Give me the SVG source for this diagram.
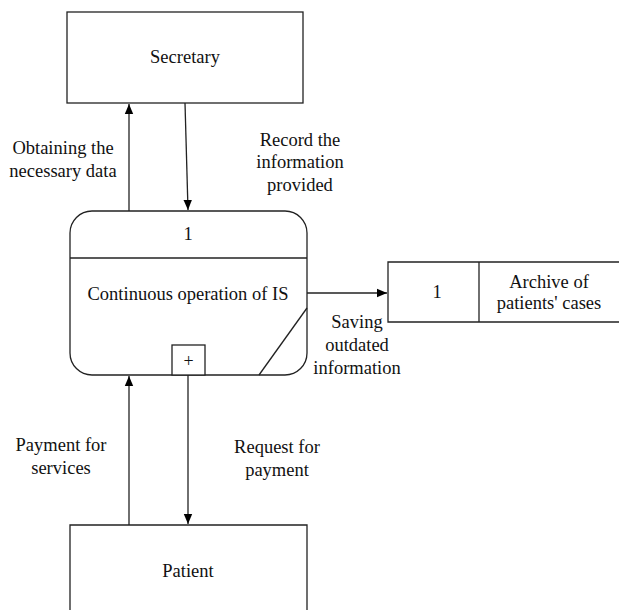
<svg xmlns="http://www.w3.org/2000/svg" width="619" height="610" viewBox="0 0 619 610">
<style>
.box{fill:#fff;stroke:#222;stroke-width:1.3}
.ln{fill:none;stroke:#222;stroke-width:1.3}
.t{font-family:'Liberation Serif','Times New Roman',serif;font-size:18.5px;fill:#111;text-anchor:middle}
</style>
<defs>
<marker id="ah" markerWidth="10" markerHeight="10" refX="10" refY="5" orient="auto" markerUnits="userSpaceOnUse">
<path d="M0,0.8 L10,5 L0,9.2 Z" fill="#000"/>
</marker>
</defs>
<rect width="619" height="610" fill="#fff"/>
<g id="secretary">
<rect class="box" x="67" y="12" width="236" height="91"/>
<text class="t" x="185" y="63">Secretary</text>
</g>
<g id="process">
<rect class="box" x="70" y="211" width="237" height="164" rx="22" ry="22"/>
<line class="ln" x1="70" y1="258" x2="307" y2="258"/>
<text class="t" x="188" y="240">1</text>
<text class="t" x="188" y="300">Continuous operation of IS</text>
<rect class="box" x="172" y="345" width="33" height="30"/>
<text class="t" x="188.5" y="367" style="font-size:18px">+</text>
</g>
<g id="archive">
<path class="ln" d="M619,262 L388,262 L388,322 L619,322"/>
<line class="ln" x1="479" y1="262" x2="479" y2="322"/>
<text class="t" x="437" y="298">1</text>
<text class="t" x="549" y="288">Archive of</text>
<text class="t" x="549" y="309">patients' cases</text>
</g>
<g id="patient">
<path class="box" d="M70,610 L70,525 L307,525 L307,610"/>
<text class="t" x="188" y="577">Patient</text>
</g>
<g id="connectors">
<line class="ln" x1="129" y1="211" x2="129" y2="104" marker-end="url(#ah)"/>
<line class="ln" x1="185" y1="103" x2="188" y2="210" marker-end="url(#ah)"/>
<line class="ln" x1="307" y1="293" x2="387" y2="293" marker-end="url(#ah)"/>
<line class="ln" x1="307" y1="308" x2="259" y2="375"/>
<line class="ln" x1="129" y1="525" x2="129" y2="376" marker-end="url(#ah)"/>
<line class="ln" x1="188" y1="375" x2="188" y2="524" marker-end="url(#ah)"/>
</g>
<g id="labels">
<text class="t" x="63" y="154">Obtaining the</text>
<text class="t" x="63" y="177">necessary data</text>
<text class="t" x="300" y="146">Record the</text>
<text class="t" x="300" y="168">information</text>
<text class="t" x="300" y="191">provided</text>
<text class="t" x="357" y="328">Saving</text>
<text class="t" x="357" y="351">outdated</text>
<text class="t" x="357" y="374">information</text>
<text class="t" x="61" y="451">Payment for</text>
<text class="t" x="61" y="474">services</text>
<text class="t" x="277" y="453">Request for</text>
<text class="t" x="277" y="476">payment</text>
</g>
</svg>
